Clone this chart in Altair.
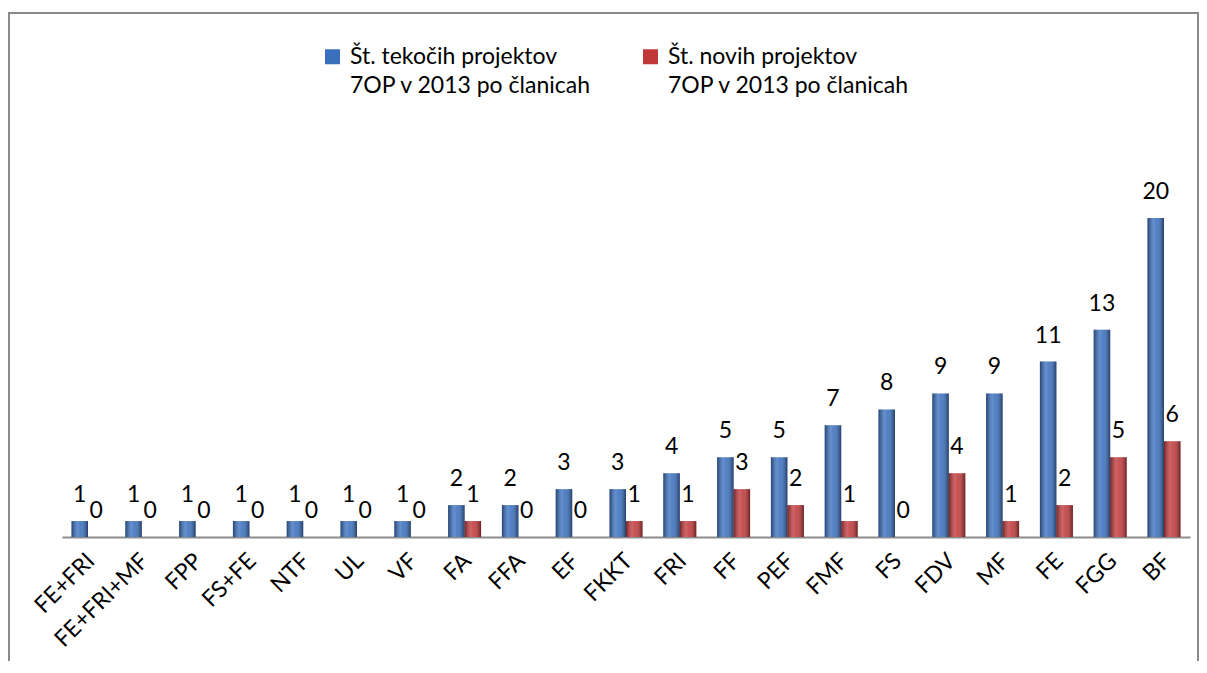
import altair as alt
import pandas as pd

# ---- data ----
categories = ["FE+FRI", "FE+FRI+MF", "FPP", "FS+FE", "NTF", "UL", "VF", "FA", "FFA", "EF",
              "FKKT", "FRI", "FF", "PEF", "FMF", "FS", "FDV", "MF", "FE", "FGG", "BF"]
current_projects = [1, 1, 1, 1, 1, 1, 1, 2, 2, 3, 3, 4, 5, 5, 7, 8, 9, 9, 11, 13, 20]
new_projects = [0, 0, 0, 0, 0, 0, 0, 1, 0, 0, 1, 1, 3, 2, 1, 0, 4, 1, 2, 5, 6]
series_names = ["Št. tekočih projektov|7OP v 2013 po članicah",
                "Št. novih projektov|7OP v 2013 po članicah"]
series_colors = ["#3A6FBE", "#C0383A"]

rows = []
for c, a, b in zip(categories, current_projects, new_projects):
    rows.append({"cat": c, "series": series_names[0], "value": a})
    rows.append({"cat": c, "series": series_names[1], "value": b})
df = pd.DataFrame(rows)

FONT = "Lato"

base = alt.Chart(df).encode(
    x=alt.X("cat:N", sort=categories,
            scale=alt.Scale(paddingInner=0.387, paddingOuter=0.177),
            axis=alt.Axis(title=None, labelAngle=-45, labelAlign="right",
                          labelBaseline="middle", labelPadding=20, labelOffset=3,
                          ticks=False, domainColor="#8c8c8c", domainWidth=2,
                          labelFont=FONT, labelFontSize=23, labelColor="#000000",
                          labelOverlap=False, labelLimit=300)),
    xOffset=alt.XOffset("series:N", sort=series_names,
                        scale=alt.Scale(paddingInner=0, paddingOuter=0)),
    y=alt.Y("value:Q", scale=alt.Scale(domain=[0, 20], nice=False, zero=True), axis=None),
)

bars = base.mark_bar().encode(
    color=alt.Color("series:N", sort=series_names,
                    scale=alt.Scale(domain=series_names, range=series_colors),
                    legend=alt.Legend(title=None, orient="none", legendX=259, legendY=-173,
                                      direction="horizontal", symbolType="square",
                                      symbolSize=225, symbolStrokeWidth=0,
                                      labelFont=FONT, labelFontSize=23, labelColor="#000000",
                                      labelOffset=6, columnPadding=47, labelLimit=400,
                                      labelExpr="split(datum.label, '|')"))
)

shade = base.mark_bar(
    fill=alt.LinearGradient(
        gradient="linear", x1=0, x2=1, y1=0, y2=0,
        stops=[alt.GradientStop(color="rgba(0,0,0,0.40)", offset=0),
               alt.GradientStop(color="rgba(255,255,255,0.22)", offset=0.38),
               alt.GradientStop(color="rgba(255,255,255,0.12)", offset=0.55),
               alt.GradientStop(color="rgba(0,0,0,0.45)", offset=1)]))

labels = base.mark_text(dy=-26, baseline="middle", align="center", font=FONT,
                        fontSize=23, color="#000000").encode(text="value:Q")

frame = alt.Chart(pd.DataFrame({"f": [0]})).mark_rect(
    fill="transparent", stroke="#8a8a8a", strokeWidth=2
).encode(x=alt.value(-53), x2=alt.value(1136), y=alt.value(-205), y2=alt.value(700))

chart = alt.layer(frame, bars, shade, labels).properties(
    width=1128, height=319,
    background="white",
    autosize=alt.AutoSizeParams(type="none"),
    padding={"left": 54, "top": 210, "right": 9, "bottom": 124},
).configure(
    style={"guide-label": {"lineHeight": 29}}
).configure_view(stroke="transparent", strokeWidth=0)

chart.save("out.html", embed_options={"renderer": "svg", "actions": False})
